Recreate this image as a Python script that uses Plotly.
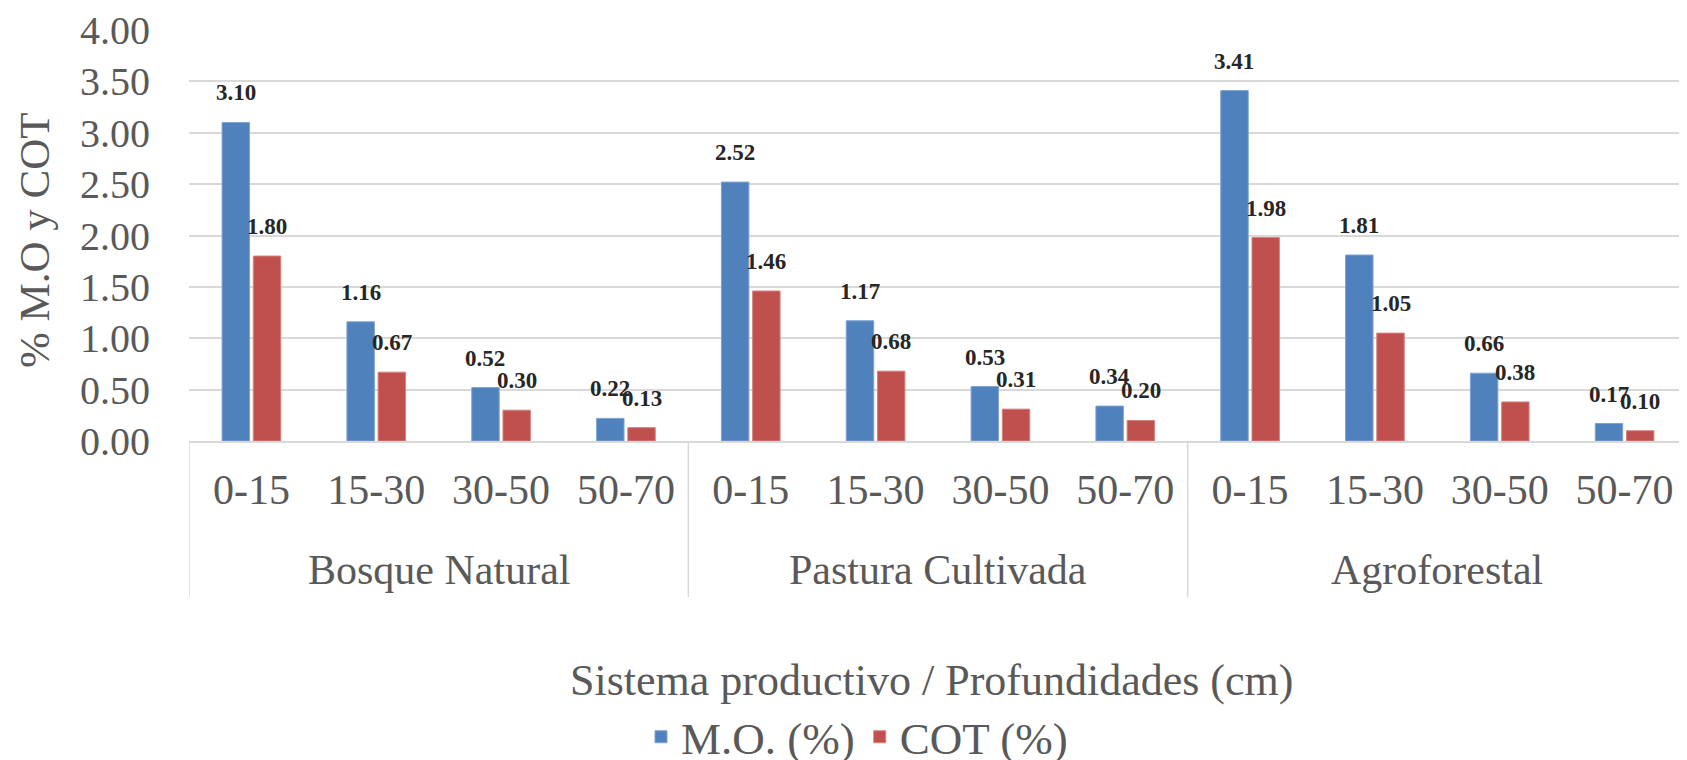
import plotly.graph_objects as go

systems = ["Bosque Natural", "Pastura Cultivada", "Agroforestal"]
depths = ["0-15", "15-30", "30-50", "50-70"]
mo_values = [3.10, 1.16, 0.52, 0.22,
             2.52, 1.17, 0.53, 0.34,
             3.41, 1.81, 0.66, 0.17]
cot_values = [1.80, 0.67, 0.30, 0.13,
              1.46, 0.68, 0.31, 0.20,
              1.98, 1.05, 0.38, 0.10]
y_ticks = [0, 0.5, 1.0, 1.5, 2.0, 2.5, 3.0, 3.5, 4.0]

children = [d for _ in systems for d in depths]
n = len(children)
x_idx = list(range(n))
per_group = len(depths)

FONT = "Liberation Serif"
BLUE = "#4F81BD"
RED = "#C0504D"
GRID = "#d9d9d9"
TXT = "#595959"

# page is offset by the default 8px body margin
OFF = 8
PW, PH = 1687, 760
W, H = PW - OFF, PH - OFF
PLOT_L, PLOT_T, PLOT_B = 189, 30, 441      # page pixel positions
M_L, M_T = PLOT_L - OFF, PLOT_T - OFF
M_B = H - (PLOT_B - OFF)
plot_h = PLOT_B - PLOT_T
plot_w = PW - PLOT_L


def py(page_y):
    return (PLOT_B - page_y) / plot_h


def px(page_x):
    return (page_x - PLOT_L) / plot_w


fig = go.Figure()
fig.add_trace(go.Bar(x=x_idx, y=mo_values, name="M.O. (%)",
                     marker=dict(color=BLUE, line=dict(color="#7FA3D3", width=1))))
fig.add_trace(go.Bar(x=x_idx, y=cot_values, name="COT (%)",
                     marker=dict(color=RED, line=dict(color="#D98280", width=1))))

bargap = 0.5
slot = (1 - bargap) / 2
annotations = []
for i in range(n):
    for k, vals in enumerate([mo_values, cot_values]):
        xpos = i - (1 - bargap) / 2 + slot * (k + 0.5)
        annotations.append(dict(x=xpos, y=vals[i], xref="x", yref="y",
                                text=f"{vals[i]:.2f}", showarrow=False,
                                yanchor="bottom", xanchor="center", yshift=15,
                                font=dict(family=FONT, size=23, color="#262626", weight="bold")))

# group (system) labels and dividers
shapes = []
for g, name in enumerate(systems):
    center = g * per_group + (per_group - 1) / 2
    annotations.append(dict(x=center, y=py(570), xref="x", yref="paper", text=name,
                            showarrow=False, xanchor="center", yanchor="middle",
                            font=dict(family=FONT, size=42, color=TXT)))
for b in range(len(systems) + 1):
    xb = b * per_group - 0.5
    shapes.append(dict(type="line", xref="x", yref="paper", x0=xb, x1=xb, y0=0, y1=py(597),
                       line=dict(color=GRID, width=1.5)))

annotations.append(dict(text="Sistema productivo / Profundidades (cm)", xref="paper", yref="paper",
                        x=px(931), y=py(680), yanchor="middle", xanchor="center",
                        showarrow=False, font=dict(family=FONT, size=44, color=TXT)))
annotations.append(dict(text="% M.O y COT", xref="paper", yref="paper", textangle=-90,
                        x=px(34), y=py(240), yanchor="middle", xanchor="center",
                        showarrow=False, font=dict(family=FONT, size=43, color=TXT)))

fig.update_layout(
    width=W, height=H,
    margin=dict(l=M_L, r=0, t=M_T, b=M_B, autoexpand=False),
    paper_bgcolor="white", plot_bgcolor="white",
    barmode="group", bargap=bargap, bargroupgap=0.12,
    font=dict(family=FONT, color=TXT),
    xaxis=dict(range=[-0.5, n - 0.5], tickvals=x_idx, ticktext=children, showgrid=False,
               zeroline=False, showline=True, linecolor=GRID, linewidth=1.5, automargin=False,
               tickfont=dict(family=FONT, size=42, color=TXT), ticks="", ticklabelstandoff=11),
    yaxis=dict(range=[0, 4], tickvals=y_ticks, tickformat=".2f", showgrid=True, gridcolor=GRID,
               gridwidth=1.5, zeroline=False, showline=False, ticklabelstandoff=38, automargin=False,
               ticklabeloverflow="allow",
               tickfont=dict(family=FONT, size=40, color=TXT)),
    legend=dict(orientation="h", xref="container", yref="container",
                x=(857 - OFF) / W, y=1 - (737 - OFF) / H,
                xanchor="center", yanchor="middle", font=dict(family=FONT, size=45, color=TXT),
                itemwidth=30, tracegroupgap=0),
    annotations=annotations,
    shapes=shapes,
    showlegend=True,
)

fig.write_html("out.html")
